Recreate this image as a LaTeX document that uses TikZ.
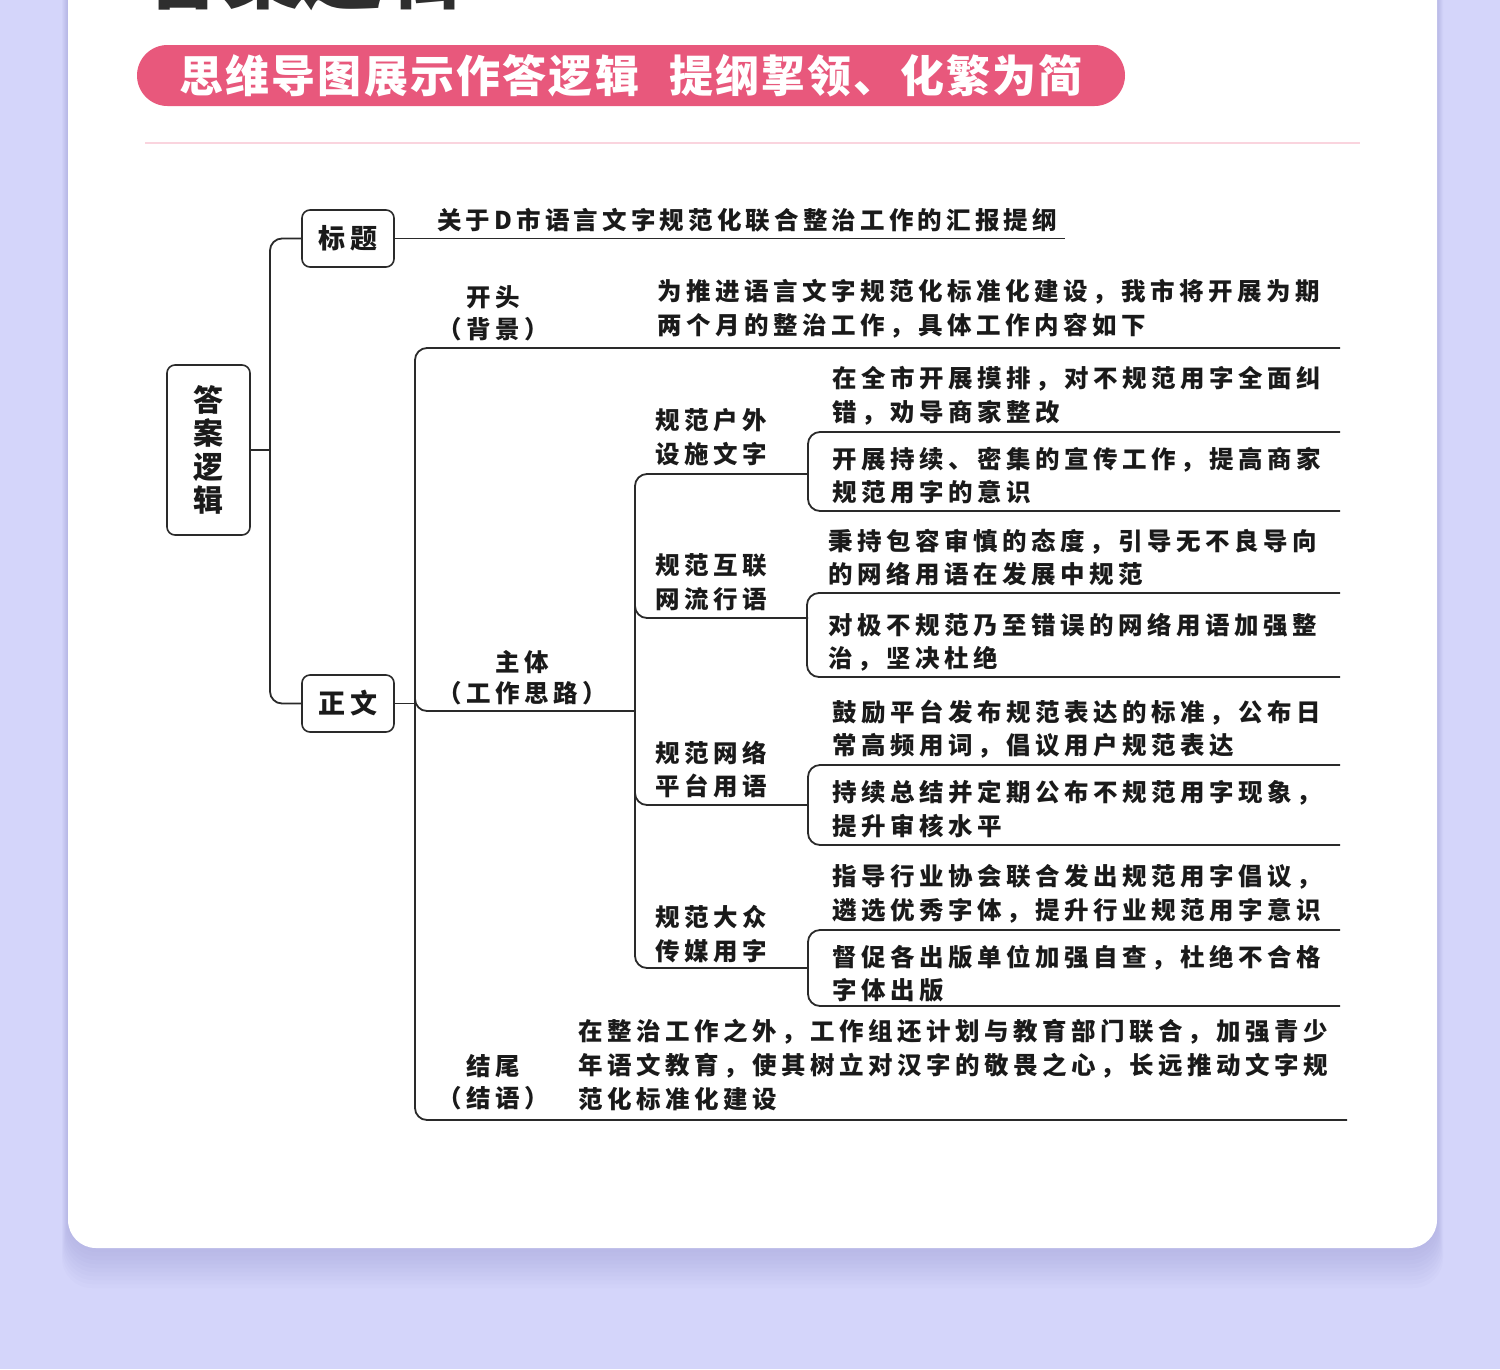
\documentclass[tikz,border=0pt]{standalone}
\usepackage{fontspec}
\newfontfamily\mmfont[LetterSpace=18.5]{Noto Sans CJK SC}
\newfontfamily\ttlfont[LetterSpace=17]{Noto Sans CJK SC}
\newfontfamily\hdfont[LetterSpace=5]{Noto Sans CJK SC}
\newfontfamily\bigfont{Noto Sans CJK SC}
\definecolor{bgc}{HTML}{D4D5FA}
\definecolor{shadowc}{HTML}{8C8CD0}
\definecolor{pinkc}{HTML}{E8587C}
\definecolor{pinkline}{HTML}{FAD4DE}
\definecolor{linec}{HTML}{2A2A2A}
\definecolor{textc}{HTML}{1A1A1A}
\tikzset{
  conn/.style={draw=linec, line width=1.8pt, rounded corners=12pt},
  mbox/.style={draw=linec, line width=1.6pt, rounded corners=8pt, fill=white, inner sep=0pt, text=textc,
    font=\mmfont\bfseries\fontsize{27}{33.3}\selectfont, align=center},
  mtext/.style={inner sep=0pt, anchor=north west, align=left, text=textc,
    font=\mmfont\bfseries\fontsize{24.5}{33.5}\selectfont},
  mlabel/.style={inner sep=0pt, anchor=north, align=center, text=textc,
    font=\mmfont\bfseries\fontsize{24.5}{32}\selectfont},
}
\begin{document}
\begin{tikzpicture}[x=1pt,y=-1pt]
\useasboundingbox (0,0) rectangle (1500,1369);
% background and card
\fill[bgc] (0,0) rectangle (1500,1369);
\foreach \k in {1,...,10}
  \fill[shadowc, opacity=0.04, rounded corners=30pt] (68-\k*0.6,-60) rectangle (1437+\k*0.6,1248+\k*4);
\fill[white, rounded corners=28pt] (68,-60) rectangle (1437,1248);
% cut-off heading
\node[inner sep=0pt, anchor=base west, text=black!82, font=\bigfont\bfseries\fontsize{80}{80}\selectfont] (heading) at (143,2) {答案逻辑};
% banner
\node[fill=pinkc, rounded corners=30.5pt, minimum width=988pt, minimum height=61pt, inner sep=0pt, text=white,
  font=\hdfont\bfseries\fontsize{44}{44}\selectfont] (banner) at (631,75.5) {思维导图展示作答逻辑\hspace{30pt}提纲挈领、化繁为简};
\coordinate (sepL) at (145,143);
\coordinate (sepR) at (1360,143);
\draw[pinkline, line width=2pt] (sepL) -- (sepR);

% mind map nodes
\node[mbox, minimum width=83pt, minimum height=170pt, font=\mmfont\bfseries\fontsize{30}{33.3}\selectfont] (root) at (208.5,450) {答\\案\\逻\\辑};
\node[mbox, minimum width=92pt, minimum height=57pt] (biaoti) at (348,238.5) {标题};
\node[mbox, minimum width=92pt, minimum height=57pt] (zhengwen) at (348,703.5) {正文};

% level-1 connectors
\coordinate (j1) at (270,450);
\draw[conn] (root.east) -- (j1);
\draw[conn] (biaoti.west) -- (270,238.5) -- (270,703.5) -- (zhengwen.west);
\coordinate (titleEnd) at (1065,238.5);
\draw[conn] (biaoti.east) -- (titleEnd);
\node[mtext, font=\ttlfont\bfseries\fontsize{24.5}{33.5}\selectfont] (titletext) at (437,208.5) {关于D市语言文字规范化联合整治工作的汇报提纲};

% level-2 connectors
\coordinate (j2) at (415,703.5);
\draw[conn] (zhengwen.east) -- (j2);
\coordinate (ktEnd) at (1340,348);
\coordinate (jwEnd) at (1347,1120);
\draw[conn] (ktEnd) -- (415,348) -- (415,1120) -- (jwEnd);
\coordinate (ztEnd) at (635,711);
\draw[conn] (415,690) -- (415,711) -- (ztEnd);

\node[mlabel] (kaitou) at (493,285.5) {开头\\（背景）};
\node[mtext] (kttext) at (657,279.5) {为推进语言文字规范化标准化建设，我市将开展为期\\两个月的整治工作，具体工作内容如下};
\node[mlabel, font=\mmfont\bfseries\fontsize{24.5}{31}\selectfont] (zhuti) at (522,650.5) {主体\\（工作思路）};
\node[mlabel] (jiewei) at (493,1054.5) {结尾\\（结语）};
\node[mtext, font=\mmfont\bfseries\fontsize{24.5}{34}\selectfont] (jwtext) at (578,1018.5) {在整治工作之外，工作组还计划与教育部门联合，加强青少\\年语文教育，使其树立对汉字的敬畏之心，长远推动文字规\\范化标准化建设};

% level-3 connectors
\coordinate (b1) at (808,474);
\coordinate (b2) at (808,618);
\coordinate (b3) at (808,805);
\coordinate (b4) at (808,968);
\draw[conn] (b1) -- (635,474) -- (635,968) -- (b4);
\draw[conn] (635,600) -- (635,618) -- (b2);
\draw[conn] (635,790) -- (635,805) -- (b3);

\node[mtext] (g1) at (655,408.5) {规范户外\\设施文字};
\node[mtext] (g2) at (655,553.5) {规范互联\\网流行语};
\node[mtext] (g3) at (655,740.5) {规范网络\\平台用语};
\node[mtext] (g4) at (655,905.5) {规范大众\\传媒用字};

% brackets
\coordinate (e1a) at (1340,432); \coordinate (e1b) at (1340,511);
\coordinate (e2a) at (1340,593); \coordinate (e2b) at (1340,677);
\coordinate (e3a) at (1340,765); \coordinate (e3b) at (1340,845);
\coordinate (e4a) at (1340,930); \coordinate (e4b) at (1340,1006);
\draw[conn] (e1a) -- (808,432) -- (808,511) -- (e1b);
\draw[conn] (e2a) -- (807,593) -- (807,677) -- (e2b);
\draw[conn] (e3a) -- (808,765) -- (808,845) -- (e3b);
\draw[conn] (e4a) -- (808,930) -- (808,1006) -- (e4b);

\node[mtext] (t1a) at (832,366.5) {在全市开展摸排，对不规范用字全面纠\\错，劝导商家整改};
\node[mtext] (t1b) at (832,446.5) {开展持续、密集的宣传工作，提高商家\\规范用字的意识};
\node[mtext] (t2a) at (828,528.5) {秉持包容审慎的态度，引导无不良导向\\的网络用语在发展中规范};
\node[mtext] (t2b) at (828,612.5) {对极不规范乃至错误的网络用语加强整\\治，坚决杜绝};
\node[mtext] (t3a) at (832,699.5) {鼓励平台发布规范表达的标准，公布日\\常高频用词，倡议用户规范表达};
\node[mtext] (t3b) at (832,780.5) {持续总结并定期公布不规范用字现象，\\提升审核水平};
\node[mtext] (t4a) at (832,864.5) {指导行业协会联合发出规范用字倡议，\\遴选优秀字体，提升行业规范用字意识};
\node[mtext] (t4b) at (832,944.5) {督促各出版单位加强自查，杜绝不合格\\字体出版};
\end{tikzpicture}
\end{document}
